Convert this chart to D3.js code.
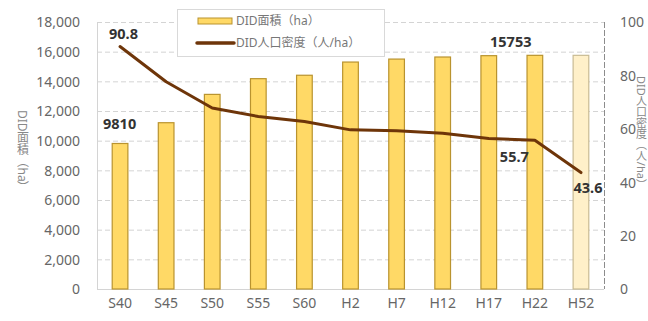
<!DOCTYPE html>
<html><head><meta charset="utf-8">
<script src="https://cdn.jsdelivr.net/npm/d3@7"></script>
<style>
body{margin:0;background:#fff;}
svg{display:block;}
text{font-family:"Noto Sans","Noto Sans CJK JP",sans-serif;}
</style></head>
<body><svg id="c" width="648" height="321"></svg>
<script>
const categories = ["S40","S45","S50","S55","S60","H2","H7","H12","H17","H22","H52"];
const areaValues = [9810,11210,13120,14180,14410,15300,15500,15640,15730,15753,15753];
const densityValues = [90.8,77.6,67.8,64.6,62.7,59.6,59.3,58.3,56.4,55.7,43.6];
const leftTicks = [0,2000,4000,6000,8000,10000,12000,14000,16000,18000];
const rightTicks = [0,20,40,60,80,100];
const areaLabels = [{i:0,text:"9810"},{i:8,text:"15753"}];
const densityLabels = [{i:0,text:"90.8"},{i:9,text:"55.7"},{i:10,text:"43.6"}];
const legendItems = ["DID面積（ha）","DID人口密度（人/ha）"];
const leftTitle = "DID面積（ha）";
const rightTitle = "DID人口密度（人/ha）";

const svg = d3.select("#c");
const L=97,R=604,T=22,B=289;
const x = d3.scaleBand().domain(categories).range([L,R]).paddingInner(0.66).paddingOuter(0.33);
const yL = d3.scaleLinear().domain([0,18000]).range([B,T]);
const yR = d3.scaleLinear().domain([0,100]).range([B,T]);

// grid
svg.append("g").selectAll("line").data(leftTicks.filter(d=>d>0)).join("line")
  .attr("x1",L).attr("x2",R).attr("y1",d=>yL(d)+0.5).attr("y2",d=>yL(d)+0.5)
  .attr("stroke","#d4d4d4").attr("stroke-dasharray","5,3").attr("stroke-width",1);
svg.append("line").attr("x1",L).attr("x2",R).attr("y1",B+0.5).attr("y2",B+0.5).attr("stroke","#d4d4d4");
svg.append("line").attr("x1",L+0.5).attr("x2",L+0.5).attr("y1",T).attr("y2",B).attr("stroke","#d4d4d4");
svg.append("line").attr("x1",R+0.5).attr("x2",R+0.5).attr("y1",T).attr("y2",B).attr("stroke","#8c8c8c").attr("stroke-dasharray","6,2");

// left axis
const axL = d3.axisLeft(yL).tickValues(leftTicks).tickFormat(d3.format(",")).tickSize(0).tickPadding(0);
const gL = svg.append("g").attr("transform",`translate(${80},0)`).call(axL);
gL.select(".domain").remove();
gL.selectAll("text").attr("font-size",14).attr("fill","#666").attr("dy","0.35em");

// right axis
const axR = d3.axisRight(yR).tickValues(rightTicks).tickSize(0).tickPadding(0);
const gR = svg.append("g").attr("transform",`translate(${620},0)`).call(axR);
gR.select(".domain").remove();
gR.selectAll("text").attr("font-size",14).attr("fill","#666").attr("dy","0.35em");

// x axis
const axX = d3.axisBottom(x).tickSize(0).tickPadding(0);
const gX = svg.append("g").attr("transform",`translate(0,${303})`).call(axX);
gX.select(".domain").remove();
gX.selectAll("text").attr("font-size",14).attr("fill","#666").attr("dy","0.35em");

// bars
svg.append("g").selectAll("rect").data(areaValues).join("rect")
  .attr("x",(d,i)=>x(categories[i]))
  .attr("width",x.bandwidth())
  .attr("y",d=>yL(d))
  .attr("height",d=>B-yL(d))
  .attr("fill",(d,i)=>i===categories.length-1?"#fff0c9":"#ffd966")
  .attr("stroke",(d,i)=>i===categories.length-1?"#c9bb93":"#b9932f")
  .attr("stroke-width",1.2);

// line
const line = d3.line().x((d,i)=>x(categories[i])+x.bandwidth()/2).y(d=>yR(d));
svg.append("path").datum(densityValues).attr("d",line)
  .attr("fill","none").attr("stroke","#6e3509").attr("stroke-width",3).attr("stroke-linejoin","round").attr("stroke-linecap","round");

// data labels
const cx = i => x(categories[i])+x.bandwidth()/2;
const lab = svg.append("g").attr("font-size",14.5).attr("font-weight","bold").attr("fill","#333");
lab.append("text").attr("x",cx(0)-17).attr("y",yL(areaValues[0])-14).text(areaLabels[0].text);
lab.append("text").attr("x",cx(8)+22).attr("y",yL(areaValues[8])-9).attr("text-anchor","middle").text(areaLabels[1].text);
lab.append("text").attr("x",cx(0)-11).attr("y",yR(densityValues[0])-8).text(densityLabels[0].text);
lab.append("text").attr("x",cx(9)-35).attr("y",yR(densityValues[9])+22).text(densityLabels[1].text);
lab.append("text").attr("x",cx(10)+7).attr("y",yR(densityValues[10])+20).attr("text-anchor","middle").text(densityLabels[2].text);

// legend
const lg = svg.append("g");
lg.append("rect").attr("x",177.5).attr("y",9.5).attr("width",207).attr("height",47).attr("fill","#fff").attr("stroke","#d9d9d9");
lg.append("rect").attr("x",198).attr("y",18).attr("width",34).attr("height",6).attr("fill","#ffd966").attr("stroke","#b9932f").attr("stroke-width",1);
lg.append("line").attr("x1",197).attr("x2",234).attr("y1",43).attr("y2",43).attr("stroke","#6e3509").attr("stroke-width",3.5).attr("stroke-linecap","round");
lg.append("text").attr("x",236).attr("y",21).attr("dy","0.35em").attr("font-size",12).attr("fill","#777").text(legendItems[0]);
lg.append("text").attr("x",236).attr("y",43).attr("dy","0.35em").attr("font-size",12).attr("fill","#777").text(legendItems[1]);

// axis titles (vertical writing)
svg.append("text").attr("x",22).attr("y",110).attr("font-size",12).attr("fill","#888")
  .style("writing-mode","vertical-rl").style("text-orientation","mixed").text(leftTitle);
svg.append("text").attr("x",641).attr("y",76).attr("font-size",11).attr("fill","#888")
  .style("writing-mode","vertical-rl").style("text-orientation","mixed").text(rightTitle);
</script></body></html>
